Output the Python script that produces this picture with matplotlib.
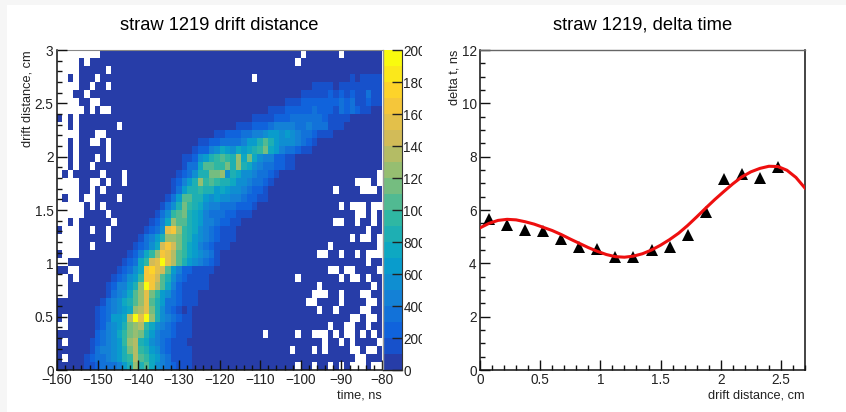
import numpy as np
import matplotlib
matplotlib.use('Agg')
import matplotlib.pyplot as plt
from matplotlib.colors import LinearSegmentedColormap, ListedColormap, BoundaryNorm
from matplotlib.patches import Rectangle
from matplotlib.ticker import MultipleLocator
from matplotlib.transforms import Bbox

plt.rcParams['font.family'] = ['Liberation Sans', 'DejaVu Sans']

W, H = 846, 412

# heatmap values, read by eye as colour bands (one band = 100 counts)
# rows counted from the top of the plot, 40 rows x 60 columns
n_rows, n_cols = 40, 60
ridge_row = [3, 3, 4, 4, 5, 6, 7, 8, 9, 10, 11, 12, 13, 14, 15, 16, 17, 18, 19, 20, 21, 22,
             23, 24, 25, 26, 27, 28, 29, 30, 31, 32, 33, 34, 35, 36, 37, 38, 39]
ridge_start = [54, 56, 47, 52, 45, 42, 39, 36, 33, 29, 26, 25, 23, 23, 22, 21, 21, 20, 19, 18, 17, 16,
               15, 14, 13, 12, 11, 10, 9, 9, 8, 7, 7, 7, 7, 6, 6, 5, 5]
ridge_bands = ["1", "1111", "1111", "11111111",
               "111112121211311",
               "111222222232311211",
               "1112222232221323211",
               "111122233333321111",
               "11122234444334333111",
               "1122233445665654332111",
               "112233334668a865554321",
               "1224576576789b76433211",
               "1125689a98c7b75442211",
               "1337aa99b8c8754332211",
               "123588bbc5875543321",
               "12468c9a98875543321",
               "136889886765543221",
               "136aa88656554432211",
               "1358b9875443332221",
               "1359ab876433322111",
               "1247caa8764432211",
               "1235fgc9875432111",
               "13468ccb9865432111",
               "12357egeb976432111",
               "12479cgfda9765431",
               "12379efjfda8654321",
               "12357ghfea64221111",
               "123569ggea85321111",
               "124468cjgda74211111",
               "13457acfb96532111",
               "134578acfa86332111",
               "1234567cdfb8532101",
               "123667djfjc8543211",
               "124568bcd975432111",
               "234579bcb864332111",
               "1234569cd875432111",
               "1344568bd9865321111",
               "123345689da976431111",
               "112333468c8a75432111"]

# empty (white) bins per row, from the top
empty_bins = [
    [0, 1, 2, 3, 4, 5, 6, 7, 45, 52],
    [0, 1, 2, 3, 5, 44],
    [0, 1, 2, 3, 9],
    [0, 1, 3, 7, 36],
    [0, 1, 2, 3, 6, 9],
    [0, 1, 2, 5],
    [0, 1, 2, 3, 6, 7],
    [0, 1, 2, 3, 4, 6, 8, 9],
    [1, 3],
    [0, 1, 3, 11],
    [0, 1, 2, 3, 7, 8],
    [0, 1, 3, 6, 7, 9],
    [0, 1, 3, 9],
    [0, 1, 3, 7, 9],
    [0, 1, 3, 6],
    [0, 2, 8, 12, 59],
    [0, 1, 2, 3, 6, 7, 9, 12, 55, 56, 57, 59],
    [0, 1, 2, 3, 6, 8, 51, 56, 57, 58],
    [0, 2, 3, 5, 6, 11],
    [0, 1, 2, 3, 4, 6, 8, 52, 54, 55, 56, 58, 59],
    [0, 1, 2, 3, 4, 9, 55, 56, 58],
    [0, 1, 3, 10, 51, 52, 55, 58],
    [1, 2, 3, 6, 9, 57],
    [0, 1, 2, 3, 9, 54, 56, 57, 59],
    [0, 1, 2, 3, 6, 50, 59],
    [1, 2, 3, 48, 49, 52, 55, 57, 58, 59],
    [0, 1, 57],
    [2, 3, 50, 51, 53, 54, 59],
    [0, 1, 3, 44, 52, 54, 55, 57],
    [0, 1, 48, 58],
    [0, 1, 47, 48, 49, 52, 56, 57],
    [46, 47, 52, 57, 58],
    [48, 51, 56, 57],
    [1, 54, 55, 57, 58],
    [0, 1, 50, 53, 54, 57],
    [38, 44, 47, 48, 49, 51, 53, 54, 56, 58],
    [1, 49, 52, 54, 59],
    [43, 47, 49, 54, 55, 57, 58],
    [1, 55, 56],
    [44, 47, 50, 52, 54, 55, 56, 58, 59],
]

# right panel
point_x = [0.075, 0.225, 0.375, 0.525, 0.675, 0.825, 0.975, 1.125, 1.275,
           1.425, 1.575, 1.725, 1.875, 2.025, 2.175, 2.325, 2.475]
point_y = [5.66, 5.43, 5.24, 5.20, 4.93, 4.63, 4.53, 4.25, 4.23,
           4.51, 4.60, 5.05, 5.93, 7.16, 7.36, 7.19, 7.60]
curve_x = [0, 0.075, 0.15, 0.225, 0.3, 0.375, 0.45, 0.525, 0.6, 0.675, 0.75, 0.825, 0.9, 0.975, 1.05,
           1.125, 1.2, 1.275, 1.35, 1.425, 1.5, 1.575, 1.65, 1.725, 1.8, 1.875, 1.95, 2.025, 2.1,
           2.175, 2.25, 2.325, 2.4, 2.475, 2.55, 2.625, 2.7]
curve_y = [5.33, 5.50, 5.61, 5.65, 5.63, 5.56, 5.47, 5.35, 5.23, 5.08, 4.91, 4.75, 4.59, 4.45, 4.33,
           4.25, 4.23, 4.27, 4.36, 4.50, 4.68, 4.89, 5.13, 5.42, 5.74, 6.07, 6.39, 6.69, 6.98,
           7.24, 7.43, 7.56, 7.64, 7.63, 7.49, 7.22, 6.82]


def bird_colors(n):
    # ROOT kBird palette, sampled into the bands of the colour bar
    r = [0.2082, 0.0592, 0.0780, 0.0232, 0.1802, 0.5301, 0.8186, 0.9956, 0.9764]
    g = [0.1664, 0.3599, 0.5041, 0.6419, 0.7178, 0.7492, 0.7328, 0.7862, 0.9832]
    b = [0.5293, 0.8684, 0.8385, 0.7914, 0.6425, 0.4662, 0.3499, 0.1968, 0.0539]
    cm = LinearSegmentedColormap.from_list('bird', list(zip(r, g, b)))
    return [cm((k + 1) / n) for k in range(n)]


def px_axes(fig, left, top, right, bottom):
    return fig.add_axes([left / W, 1 - bottom / H, (right - left) / W, (bottom - top) / H])


def style_axes(ax):
    for side in ['left', 'bottom']:
        ax.spines[side].set_linewidth(1.1)
        ax.spines[side].set_color('#111111')
    ax.tick_params(which='both', direction='in', top=False, right=False, width=1.0, color='#111111')
    ax.tick_params(which='major', length=7, labelsize=9.8, labelcolor='#222222', pad=2.5)
    ax.tick_params(which='minor', length=3.5)


levels = np.zeros((n_rows, n_cols))
for row, start, bands in zip(ridge_row, ridge_start, ridge_bands):
    for i, ch in enumerate(bands):
        levels[row, start + i] = int(ch, 20)
counts = levels * 100 + 50
for row, cols in enumerate(empty_bins):
    counts[row, cols] = np.nan

fig = plt.figure(figsize=(W / 100, H / 100), dpi=100, facecolor='#f6f6f6')
fig.add_artist(Rectangle((7 / W, 0), 1 - 7 / W, 1 - 5 / H, transform=fig.transFigure,
                         facecolor='white', edgecolor='none', zorder=-10))

ax1 = px_axes(fig, 57, 50, 382, 370)
x_edges = np.linspace(-160, -80, n_cols + 1)
y_edges = np.linspace(3, 0, n_rows + 1)
cmap = ListedColormap(bird_colors(20))
norm = BoundaryNorm(np.arange(0, 2001, 100), 20)
mesh = ax1.pcolormesh(x_edges, y_edges, np.ma.masked_invalid(counts), cmap=cmap, norm=norm)
ax1.set_xlim(-160, -80)
ax1.set_ylim(0, 3)
style_axes(ax1)
ax1.set_axisbelow(False)
ax1.xaxis.set_major_locator(MultipleLocator(10))
ax1.xaxis.set_minor_locator(MultipleLocator(2))
ax1.yaxis.set_minor_locator(MultipleLocator(0.1))
ax1.set_yticks([0, 0.5, 1, 1.5, 2, 2.5, 3], ['0', '0.5', '1', '1.5', '2', '2.5', '3'])
ax1.spines['top'].set_color('#888888')
ax1.spines['top'].set_linewidth(0.8)
ax1.spines['right'].set_visible(False)
ax1.set_xlabel('time, ns', loc='right', fontsize=9.2, labelpad=1.5, color='#222222')
ax1.set_ylabel('drift distance, cm', loc='top', fontsize=9.2, labelpad=1, color='#222222')
fig.text(219 / W, 1 - 25 / H, 'straw 1219 drift distance', ha='center', va='center', fontsize=13.2)

cax = px_axes(fig, 382.5, 50, 402, 370)
cbar = fig.colorbar(mesh, cax=cax, ticks=np.arange(0, 2001, 200), spacing='proportional')
cbar.outline.set_visible(False)
cbar.dividers.set_visible(False)
cax.tick_params(which='major', direction='in', length=7.5, width=1.0, color='#222222',
                labelsize=9.8, labelcolor='#222222', pad=1, left=False, right=True)
cax.tick_params(which='minor', length=0)
cax.spines['right'].set_visible(True)
cax.spines['right'].set_color('#333333')
cax.plot([0, 0], [0, 1], transform=cax.transAxes, color='#999999', lw=1.0, clip_on=False)
cax.plot([0, 1], [0, 0], transform=cax.transAxes, color='#222222', lw=1.0, clip_on=False)
# the pad cuts the last digit of the colour bar labels
label_clip = Bbox([[0, 0], [421.5, H]])
for label in cax.get_yticklabels():
    label.set_clip_box(label_clip)
    label.set_clip_on(True)

ax2 = px_axes(fig, 480, 50, 805, 370)
ax2.plot(curve_x, curve_y, color='#ee0f0f', lw=2.2, solid_joinstyle='round', zorder=3)
ax2.plot(point_x, point_y, linestyle='none', marker='^', color='black', ms=9, mew=0, zorder=2)
ax2.set_xlim(0, 2.7)
ax2.set_ylim(0, 12)
style_axes(ax2)
ax2.set_xticks([0, 0.5, 1, 1.5, 2, 2.5], ['0', '0.5', '1', '1.5', '2', '2.5'])
ax2.xaxis.set_minor_locator(MultipleLocator(0.1))
ax2.yaxis.set_major_locator(MultipleLocator(2))
ax2.yaxis.set_minor_locator(MultipleLocator(0.5))
ax2.spines['top'].set_color('#666666')
ax2.spines['top'].set_linewidth(1.0)
ax2.spines['right'].set_color('#111111')
ax2.spines['right'].set_linewidth(1.1)
ax2.set_xlabel('drift distance, cm', loc='right', fontsize=9.2, labelpad=1.5, color='#222222')
ax2.set_ylabel('delta t, ns', loc='top', fontsize=9.2, labelpad=1, color='#222222')
fig.text(642.5 / W, 1 - 25 / H, 'straw 1219, delta time', ha='center', va='center', fontsize=13.2)

fig.savefig('out.png', dpi=100, facecolor=fig.get_facecolor())
